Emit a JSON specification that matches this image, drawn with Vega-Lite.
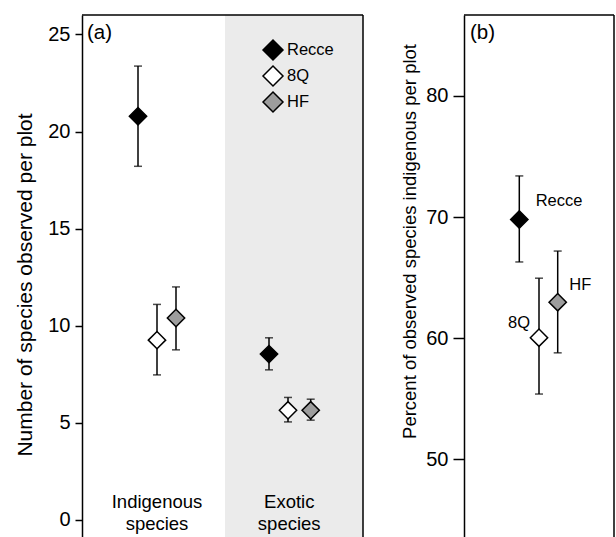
{
  "$schema": "https://vega.github.io/schema/vega-lite/v6.json",
  "autosize": {"type": "pad"},
  "padding": {"left": 14, "top": 14, "right": 0, "bottom": 0},
  "background": "white",
  "config": {
    "view": {"stroke": null},
    "font": "Liberation Sans",
    "axis": {"domainColor": "black", "domainWidth": 1.5, "tickColor": "black", "tickWidth": 1.5, "labelColor": "black", "titleColor": "black", "labelFontSize": 20, "titleFontSize": 20.5, "titleFontWeight": "normal", "grid": false, "labelFont": "Liberation Sans", "titleFont": "Liberation Sans"},
    "text": {"font": "Liberation Sans", "color": "black"}
  },
  "datasets": {
    "counts": [
      {"group": "Indigenous species", "method": "Recce", "xpos": 56, "mean": 20.79, "lo": 18.21, "hi": 23.37},
      {"group": "Indigenous species", "method": "8Q", "xpos": 75, "mean": 9.26, "lo": 7.47, "hi": 11.1},
      {"group": "Indigenous species", "method": "HF", "xpos": 94, "mean": 10.4, "lo": 8.76, "hi": 12.0},
      {"group": "Exotic species", "method": "Recce", "xpos": 187, "mean": 8.54, "lo": 7.73, "hi": 9.38},
      {"group": "Exotic species", "method": "8Q", "xpos": 206, "mean": 5.65, "lo": 5.05, "hi": 6.31},
      {"group": "Exotic species", "method": "HF", "xpos": 228.7, "mean": 5.65, "lo": 5.14, "hi": 6.22}
    ],
    "percent": [
      {"method": "Recce", "xpos": 55.3, "mean": 69.8, "lo": 66.3, "hi": 73.4},
      {"method": "8Q", "xpos": 75, "mean": 60.05, "lo": 55.4, "hi": 64.96},
      {"method": "HF", "xpos": 93.7, "mean": 62.98, "lo": 58.8, "hi": 67.2}
    ],
    "shade": [{"group": "Exotic species", "from": 143, "to": 281}]
  },
  "resolve": {"scale": {"fill": "independent"}},
  "bounds": "flush",
  "spacing": 101,
  "hconcat": [
    {
      "width": 281,
      "height": 523,
      "layer": [
        {
          "data": {"name": "shade"},
          "mark": {"type": "rect", "color": "#ebebeb"},
          "encoding": {
            "x": {"field": "from", "type": "quantitative", "scale": {"domain": [0, 281], "nice": false, "zero": false}, "axis": null},
            "x2": {"field": "to"}
          }
        },
        {
          "data": {"name": "counts"},
          "mark": {"type": "rule", "color": "black", "strokeWidth": 1.5},
          "encoding": {
            "x": {"field": "xpos", "type": "quantitative"},
            "y": {"field": "lo", "type": "quantitative", "scale": {"domain": [-0.927, 26], "nice": false, "zero": false},
              "axis": {"title": "Number of species observed per plot", "titleFontSize": 21, "values": [0, 5, 10, 15, 20, 25], "tickSize": 7, "labelPadding": 5, "titleX": -57, "titleY": 269.5, "titleBaseline": "middle"}},
            "y2": {"field": "hi"}
          }
        },
        {
          "data": {"name": "counts"},
          "transform": [{"fold": ["lo", "hi"], "as": ["end", "value"]}],
          "mark": {"type": "tick", "orient": "horizontal", "size": 8, "thickness": 1.5, "color": "black"},
          "encoding": {
            "x": {"field": "xpos", "type": "quantitative"},
            "y": {"field": "value", "type": "quantitative"}
          }
        },
        {
          "data": {"name": "counts"},
          "mark": {"type": "point", "shape": "diamond", "filled": true, "size": 300, "stroke": "black", "strokeWidth": 1.5, "opacity": 1},
          "encoding": {
            "x": {"field": "xpos", "type": "quantitative"},
            "y": {"field": "mean", "type": "quantitative"},
            "fill": {"field": "method", "type": "nominal", "scale": {"domain": ["Recce", "8Q", "HF"], "range": ["black", "white", "#9d9d9d"]},
              "legend": {"title": null, "orient": "none", "legendX": 180, "legendY": 24, "symbolType": "diamond", "symbolSize": 400, "symbolStrokeColor": "black", "symbolStrokeWidth": 1.5, "symbolOpacity": 1, "labelFontSize": 16.5, "labelOffset": 3, "rowPadding": 0, "labelColor": "black", "padding": 0, "labelFont": "Liberation Sans"}}
          }
        },
        {
          "data": {"name": "counts"},
          "transform": [{"aggregate": [{"op": "mean", "field": "xpos", "as": "xmid"}], "groupby": ["group"]}],
          "mark": {"type": "text", "fontSize": 18.5, "align": "center", "baseline": "alphabetic", "lineBreak": " ", "lineHeight": 22, "color": "black"},
          "encoding": {
            "x": {"field": "xmid", "type": "quantitative"},
            "y": {"datum": 0.6, "type": "quantitative"},
            "text": {"field": "group"}
          }
        },
        {
          "data": {"values": [{"label": "(a)"}]},
          "mark": {"type": "text", "fontSize": 20.5, "align": "left", "baseline": "middle", "color": "black"},
          "encoding": {
            "x": {"datum": 5, "type": "quantitative"},
            "y": {"datum": 25.05, "type": "quantitative"},
            "text": {"field": "label"}
          }
        },
        {
          "data": {"values": [{"edge": "top"}]},
          "mark": {"type": "rule", "color": "black", "strokeWidth": 1.5},
          "encoding": {"y": {"datum": 26, "type": "quantitative"}}
        },
        {
          "data": {"values": [{"edge": "right"}]},
          "mark": {"type": "rule", "color": "black", "strokeWidth": 1.5},
          "encoding": {"x": {"datum": 281, "type": "quantitative"}}
        }
      ]
    },
    {
      "width": 150,
      "height": 523,
      "layer": [
        {
          "data": {"name": "percent"},
          "mark": {"type": "rule", "color": "black", "strokeWidth": 1.5},
          "encoding": {
            "x": {"field": "xpos", "type": "quantitative", "scale": {"domain": [0, 150], "nice": false, "zero": false}, "axis": null},
            "y": {"field": "lo", "type": "quantitative", "scale": {"domain": [43.52, 86.68], "nice": false, "zero": false},
              "axis": {"title": "Percent of observed species indigenous per plot", "titleFontSize": 18.5, "values": [50, 60, 70, 80], "tickSize": 11, "labelPadding": 5, "titleX": -55, "titleY": 226, "titleBaseline": "middle"}},
            "y2": {"field": "hi"}
          }
        },
        {
          "data": {"name": "percent"},
          "transform": [{"fold": ["lo", "hi"], "as": ["end", "value"]}],
          "mark": {"type": "tick", "orient": "horizontal", "size": 8, "thickness": 1.5, "color": "black"},
          "encoding": {
            "x": {"field": "xpos", "type": "quantitative"},
            "y": {"field": "value", "type": "quantitative"}
          }
        },
        {
          "data": {"name": "percent"},
          "mark": {"type": "point", "shape": "diamond", "filled": true, "size": 300, "stroke": "black", "strokeWidth": 1.5, "opacity": 1},
          "encoding": {
            "x": {"field": "xpos", "type": "quantitative"},
            "y": {"field": "mean", "type": "quantitative"},
            "fill": {"field": "method", "type": "nominal", "scale": {"domain": ["Recce", "8Q", "HF"], "range": ["black", "white", "#9d9d9d"]}, "legend": null}
          }
        },
        {
          "data": {"name": "percent"},
          "transform": [{"filter": "datum.method === 'Recce'"}],
          "mark": {"type": "text", "fontSize": 16.5, "align": "left", "baseline": "middle", "dx": 16.4, "dy": -18.3, "color": "black"},
          "encoding": {"x": {"field": "xpos", "type": "quantitative"}, "y": {"field": "mean", "type": "quantitative"}, "text": {"field": "method"}}
        },
        {
          "data": {"name": "percent"},
          "transform": [{"filter": "datum.method === 'HF'"}],
          "mark": {"type": "text", "fontSize": 16.5, "align": "left", "baseline": "middle", "dx": 11.6, "dy": -17.3, "color": "black"},
          "encoding": {"x": {"field": "xpos", "type": "quantitative"}, "y": {"field": "mean", "type": "quantitative"}, "text": {"field": "method"}}
        },
        {
          "data": {"name": "percent"},
          "transform": [{"filter": "datum.method === '8Q'"}],
          "mark": {"type": "text", "fontSize": 16.5, "align": "right", "baseline": "middle", "dx": -9, "dy": -15, "color": "black"},
          "encoding": {"x": {"field": "xpos", "type": "quantitative"}, "y": {"field": "mean", "type": "quantitative"}, "text": {"field": "method"}}
        },
        {
          "data": {"values": [{"label": "(b)"}]},
          "mark": {"type": "text", "fontSize": 20.5, "align": "left", "baseline": "middle", "color": "black"},
          "encoding": {
            "x": {"datum": 6, "type": "quantitative"},
            "y": {"datum": 85.2, "type": "quantitative"},
            "text": {"field": "label"}
          }
        },
        {
          "data": {"values": [{"edge": "top"}]},
          "mark": {"type": "rule", "color": "black", "strokeWidth": 1.5},
          "encoding": {"y": {"datum": 86.68, "type": "quantitative"}}
        },
        {
          "data": {"values": [{"edge": "right"}]},
          "mark": {"type": "rule", "color": "black", "strokeWidth": 1.5},
          "encoding": {"x": {"datum": 150, "type": "quantitative"}}
        }
      ]
    }
  ]
}
